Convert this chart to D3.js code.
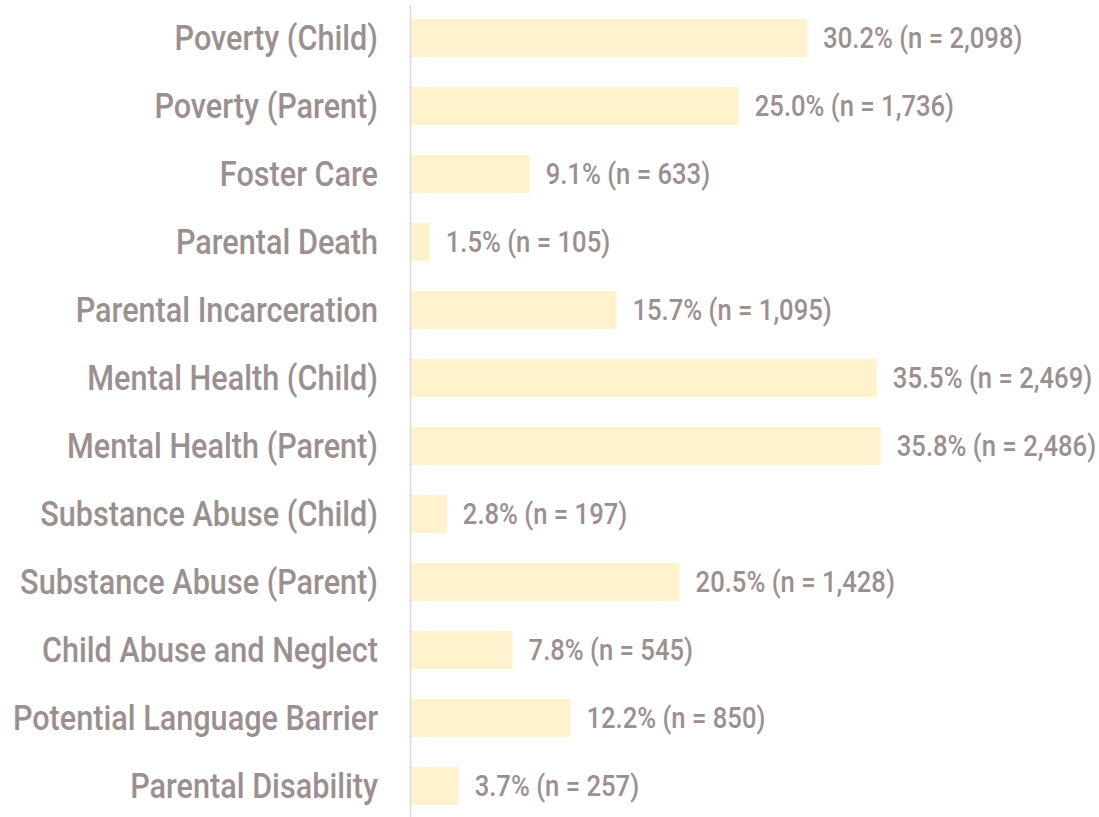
<!DOCTYPE html>
<html>
<head>
<meta charset="utf-8">
<script src="https://cdn.jsdelivr.net/npm/d3@7"></script>
<style>
  body { margin: 0; background: #fff; }
  text { font-family: Roboto, "DejaVu Sans Condensed", sans-serif; fill: #9c8f8f; }
</style>
</head>
<body>
<svg id="chart"></svg>
<script>
var width = 1099;
var height = 817;

var categories = ["Poverty (Child)", "Poverty (Parent)", "Foster Care", "Parental Death",
  "Parental Incarceration", "Mental Health (Child)", "Mental Health (Parent)",
  "Substance Abuse (Child)", "Substance Abuse (Parent)", "Child Abuse and Neglect",
  "Potential Language Barrier", "Parental Disability"];
var percents = [30.2, 25.0, 9.1, 1.5, 15.7, 35.5, 35.8, 2.8, 20.5, 7.8, 12.2, 3.7];
var counts = ["2,098", "1,736", "633", "105", "1,095", "2,469", "2,486", "197", "1,428", "545", "850", "257"];

var rows = categories.map(function(c, i) {
  return { cat: c, pct: percents[i], n: counts[i] };
});

// horizontal squeeze to mimic the condensed typeface
var kCat = 0.875;
var kVal = 0.855;

var svg = d3.select("#chart")
  .attr("width", width)
  .attr("height", height);

var x = d3.scaleLinear()
  .domain([0, 40])
  .range([410, 410 + 40 * 13.15]);

var y = d3.scaleBand()
  .domain(categories)
  .range([4, 820])
  .paddingInner(0.44)
  .paddingOuter(0.22);

svg.selectAll("rect.bar")
  .data(rows)
  .enter().append("rect")
  .attr("class", "bar")
  .attr("x", x(0))
  .attr("y", function(d) { return y(d.cat); })
  .attr("width", function(d) { return x(d.pct) - x(0); })
  .attr("height", y.bandwidth())
  .attr("fill", "#fff2cc");

// category axis
var yAxis = svg.append("g")
  .attr("transform", "translate(" + x(0) + ",0)")
  .call(d3.axisLeft(y).tickSize(0));

yAxis.select(".domain")
  .attr("d", "M0.5,5V817")
  .attr("stroke", "#d9d9d9")
  .attr("stroke-width", 1.5);

yAxis.selectAll(".tick text")
  .attr("x", -32 / kCat)
  .attr("transform", "scale(" + kCat + ",1)")
  .attr("dy", "0.33em")
  .style("font-family", "Roboto, 'DejaVu Sans Condensed', sans-serif")
  .style("font-size", "35px")
  .style("font-weight", "500")
  .attr("fill", "#9c8f8f");

svg.selectAll("text.val")
  .data(rows)
  .enter().append("text")
  .attr("class", "val")
  .attr("transform", "scale(" + kVal + ",1)")
  .attr("x", function(d) { return (x(d.pct) + 16) / kVal; })
  .attr("y", function(d) { return y(d.cat) + y.bandwidth() / 2; })
  .attr("dy", "0.34em")
  .style("font-size", "30px")
  .style("font-weight", "500")
  .text(function(d) { return d.pct.toFixed(1) + "% (n = " + d.n + ")"; });
</script>
</body>
</html>
